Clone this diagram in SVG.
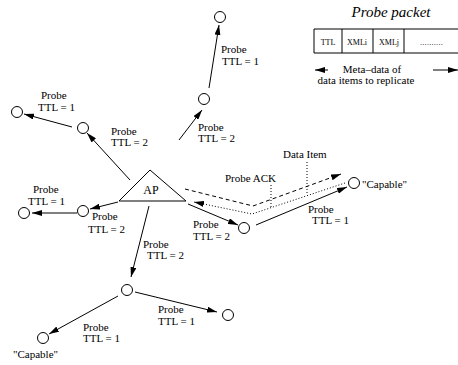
<svg xmlns="http://www.w3.org/2000/svg" width="458" height="365" viewBox="0 0 458 365">
<style>
text{font-family:'Liberation Serif','Tinos','Nimbus Roman','DejaVu Serif',serif;font-size:11px;fill:#000}
.node{fill:#fff;stroke:#000;stroke-width:1}
.e{stroke:#000;stroke-width:1;fill:none}
text.sm{font-size:8px}
text.ap{font-size:12px}
text.title{font-size:15px;font-style:italic}
text.dots{font-size:8px;letter-spacing:0.3px}
</style>
<defs>
<marker id="ah" viewBox="0 0 10 6" refX="10" refY="3" markerWidth="10" markerHeight="6" markerUnits="userSpaceOnUse" orient="auto">
<path d="M0,0 L10,3 L0,6 Z" fill="#000"/>
</marker>
</defs>
<rect width="458" height="365" fill="#fff"/>
<g id="connectors">
<line class="e" x1="179" y1="140" x2="202" y2="110" marker-end="url(#ah)"/>
<line class="e" x1="209" y1="88" x2="219" y2="25" marker-end="url(#ah)"/>
<line class="e" x1="130" y1="180" x2="87" y2="133" marker-end="url(#ah)"/>
<line class="e" x1="72" y1="127" x2="24" y2="114" marker-end="url(#ah)"/>
<line class="e" x1="118" y1="202" x2="90" y2="209" marker-end="url(#ah)"/>
<line class="e" x1="77" y1="213" x2="32" y2="213" marker-end="url(#ah)"/>
<line class="e" x1="149" y1="206" x2="131" y2="277" marker-end="url(#ah)"/>
<line class="e" x1="118" y1="296" x2="49" y2="334" marker-end="url(#ah)"/>
<line class="e" x1="135" y1="292" x2="217" y2="312" marker-end="url(#ah)"/>
<line class="e" x1="188" y1="204" x2="238" y2="225" marker-end="url(#ah)"/>
<line class="e" x1="256" y1="225" x2="347" y2="187" marker-end="url(#ah)"/>
<polyline class="e" points="185,189 253,206 341,174" stroke-dasharray="4,3" marker-end="url(#ah)"/>
<polyline class="e" points="345,183 252,214 194,202" stroke-dasharray="1,2" marker-end="url(#ah)"/>
<line class="e" x1="271" y1="185" x2="271" y2="207" stroke-dasharray="1,2"/>
<line class="e" x1="307" y1="162" x2="307" y2="193" stroke-dasharray="1,2"/>
</g>
<g id="AP"><polygon class="node" points="150,170 119,201 186,201"/><text class="ap" x="151" y="194" text-anchor="middle">AP</text></g>
<g id="n_top1"><circle class="node" cx="220" cy="17" r="5.5"/></g>
<g id="n_top2"><circle class="node" cx="204" cy="99" r="5.5"/></g>
<g id="n_ul1"><circle class="node" cx="17" cy="112" r="5.5"/></g>
<g id="n_ul2"><circle class="node" cx="83" cy="128" r="5.5"/></g>
<g id="n_l1"><circle class="node" cx="24" cy="213" r="5.5"/></g>
<g id="n_l2"><circle class="node" cx="83" cy="211" r="5.5"/></g>
<g id="n_b2"><circle class="node" cx="127" cy="290" r="5.5"/></g>
<g id="n_bl"><circle class="node" cx="43" cy="338" r="5.5"/><text x="13" y="358">"Capable"</text></g>
<g id="n_br"><circle class="node" cx="228" cy="315" r="5.5"/></g>
<g id="n_r2"><circle class="node" cx="244" cy="228" r="5.5"/></g>
<g id="n_r1"><circle class="node" cx="354" cy="183" r="5.5"/><text x="362" y="188">"Capable"</text></g>
<g id="labels">
<text x="221" y="53">Probe</text><text x="222" y="65">TTL = 1</text>
<text x="198" y="131">Probe</text><text x="198" y="142">TTL = 2</text>
<text x="41" y="99">Probe</text><text x="38" y="111">TTL = 1</text>
<text x="111" y="135">Probe</text><text x="111" y="146">TTL = 2</text>
<text x="33" y="193">Probe</text><text x="28" y="205">TTL = 1</text>
<text x="92" y="220">Probe</text><text x="88" y="233">TTL = 2</text>
<text x="143" y="248">Probe</text><text x="147" y="259">TTL = 2</text>
<text x="158" y="313">Probe</text><text x="158" y="325">TTL = 1</text>
<text x="83" y="331">Probe</text><text x="83" y="342">TTL = 1</text>
<text x="225" y="182">Probe ACK</text>
<text x="283" y="158">Data Item</text>
<text x="308" y="213">Probe</text><text x="312" y="224">TTL = 1</text>
<text x="193" y="228">Probe</text><text x="193" y="240">TTL = 2</text>
</g>
<g id="packet">
<text class="title" x="391" y="17" text-anchor="middle">Probe packet</text>
<polyline points="460,29 314,29 314,53 460,53" fill="none" stroke="#000" stroke-width="1"/>
<line x1="342" y1="29" x2="342" y2="53" stroke="#000"/>
<line x1="373" y1="29" x2="373" y2="53" stroke="#000"/>
<line x1="404" y1="29" x2="404" y2="53" stroke="#000"/>
<text class="sm" x="328" y="45" text-anchor="middle">TTL</text>
<text class="sm" x="357" y="45" text-anchor="middle">XMLi</text>
<text class="sm" x="389" y="45" text-anchor="middle">XMLj</text>
<text class="dots" x="420" y="45">..........</text>
<text x="372" y="73" text-anchor="middle">Meta–data of</text>
<text x="366" y="84" text-anchor="middle">data items to replicate</text>
<line class="e" x1="328" y1="70" x2="315" y2="70" marker-end="url(#ah)"/>
<line class="e" x1="433" y1="70" x2="458" y2="70" marker-end="url(#ah)"/>
</g>
</svg>
